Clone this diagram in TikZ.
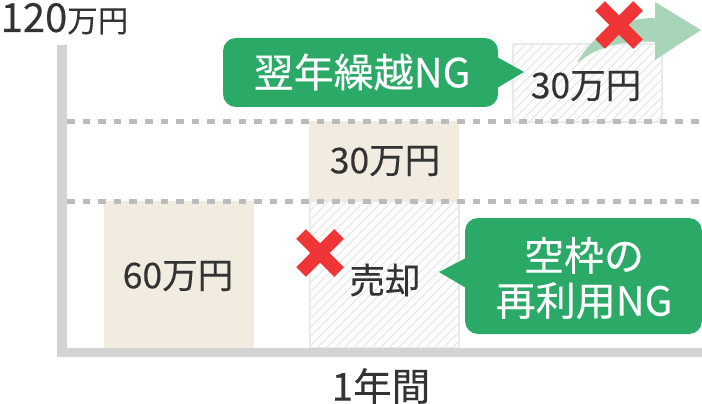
\documentclass[tikz,border=0pt]{standalone}
\usepackage{fontspec}
\setmainfont[FakeBold=0.25]{Noto Sans CJK JP}
\definecolor{txt}{HTML}{333333}
\definecolor{axisc}{HTML}{D3D3D3}
\definecolor{dotc}{HTML}{BBBBBB}
\definecolor{beige}{HTML}{F1ECDF}
\definecolor{bubble}{HTML}{2BAA67}
\definecolor{crossc}{HTML}{EF3535}
\definecolor{arrowc}{HTML}{A8D4B7}
\definecolor{hatchc}{HTML}{E2E2E2}
\definecolor{edgec}{HTML}{EAEAEA}
\newcommand{\hatchbox}[4]{%
  \begin{scope}
    \clip (#1,#2) rectangle (#3,#4);
    \foreach \k in {-200,-191,...,700}
      \draw[hatchc,line width=1pt] (#1+\k,#4) -- ++(200,-200);
  \end{scope}
  \draw[edgec,line width=2pt] (#1,#2) rectangle (#3,#4);
}
\newcommand{\redcross}[2]{%
  \draw[crossc,line width=13.5pt] (#1-19,#2-19) -- (#1+19,#2+19);
  \draw[crossc,line width=13.5pt] (#1-19,#2+19) -- (#1+19,#2-19);
}
\tikzset{
  x=1pt,y=-1pt,
  lab/.style={text=txt,inner sep=0pt,font=\fontsize{35.5}{38}\selectfont},
  white lab/.style={text=white,inner sep=0pt,align=center,font=\fontsize{40}{45}\selectfont},
  dotline/.style={dotc,line width=5pt,dash pattern=on 7.6pt off 8pt},
}
\begin{document}
\begin{tikzpicture}
\useasboundingbox (0,0) rectangle (702,404);
% beige bars
\fill[beige] (104,201) rectangle (254,348);
\fill[beige] (309,121) rectangle (459,201);
% hatched areas
\hatchbox{310}{201}{459}{348}
\hatchbox{513}{44}{662}{122}
% dotted lines
\draw[dotline] (67,121) -- (702,121);
\draw[dotline] (67,201) -- (702,201);
% axes
\fill[axisc] (57,45) rectangle (67,357);
\fill[axisc] (57,348) rectangle (702,357);
% carried-over arrow
\fill[arrowc] (577,63) .. controls (592,35) and (620,18) .. (655,18)
  -- (655,2) -- (701,30) -- (655,60) -- (655,42)
  .. controls (625,40) and (600,45) .. cycle;
\redcross{619}{25}
\redcross{320}{253}
% bubbles
\fill[bubble,rounded corners=13pt] (223,38) rectangle (498,107);
\fill[bubble] (497,57) -- (524,72) -- (497,88) -- cycle;
\fill[bubble,rounded corners=13pt] (465,218) rectangle (702,334);
\fill[bubble] (466,258) -- (439,272) -- (466,288) -- cycle;
% labels
\node[lab,anchor=base west] (ymax) at (0.5,32) {\fontsize{40}{40}\selectfont 120\fontsize{30.5}{30}\selectfont 万円};
\node[lab] (xlab) at (381,386) {\fontsize{38.5}{40}\selectfont 1年間};
\node[lab] (a) at (178,276) {60万円};
\node[lab] (b) at (385,161) {30万円};
\node[lab] (c) at (586,86) {30万円};
\node[lab] (d) at (385,280) {売却};
\node[white lab] (e) at (362,72) {翌年繰越NG};
\node[white lab] (f) at (584,278) {空枠の\\再利用NG};
\end{tikzpicture}
\end{document}
